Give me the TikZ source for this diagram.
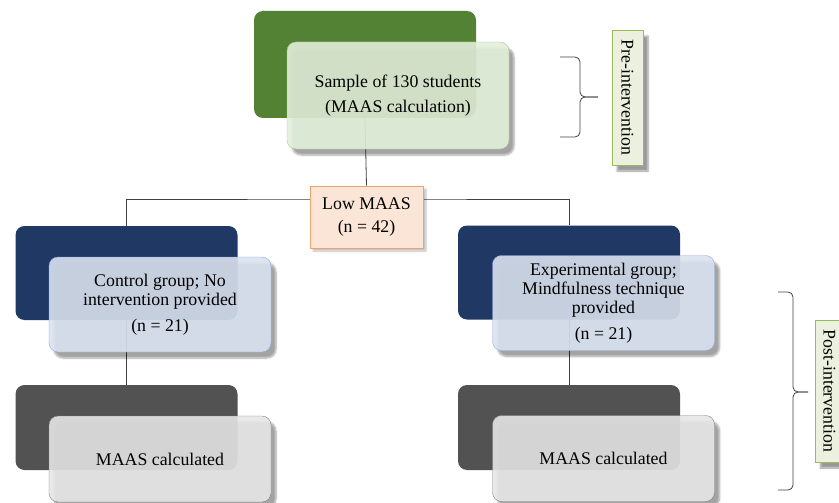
\documentclass[tikz,border=0pt]{standalone}
\usepackage{fontspec}
\setmainfont{Liberation Serif}
\usetikzlibrary{positioning,shadows.blur}
\definecolor{leafgreen}{RGB}{84,130,53}
\definecolor{palegreen}{RGB}{226,239,218}
\definecolor{edgegreen}{RGB}{169,200,150}
\definecolor{taggreen}{RGB}{235,241,222}
\definecolor{tagedge}{RGB}{155,187,89}
\definecolor{navyblue}{RGB}{32,56,100}
\definecolor{paleblue}{RGB}{218,226,240}
\definecolor{edgeblue}{RGB}{143,170,220}
\definecolor{charcoal}{RGB}{82,82,82}
\definecolor{palegray}{RGB}{230,230,230}
\definecolor{edgegray}{RGB}{130,130,130}
\definecolor{peach}{RGB}{251,229,214}
\definecolor{edgeorange}{RGB}{240,160,110}
\definecolor{linegray}{RGB}{64,64,64}

\begin{document}
\begin{tikzpicture}[x=1pt, y=-1pt,
  backbox/.style={rounded corners=9pt, minimum width=222pt, inner sep=0pt},
  frontbox/.style={rounded corners=9pt, minimum width=222pt, inner sep=0pt,
    align=center, fill opacity=0.9, text opacity=1,
    font=\fontsize{17.8}{19}\selectfont,
    blur shadow={shadow xshift=5pt, shadow yshift=-6pt, shadow blur steps=6, shadow opacity=40}},
  tagbox/.style={rotate=-90, fill=taggreen, draw=tagedge, inner sep=0pt,
    minimum height=31pt, font=\fontsize{17.8}{19}\selectfont,
    blur shadow={shadow xshift=5pt, shadow yshift=-6pt, shadow blur steps=6, shadow opacity=40}},
  link/.style={draw=linegray, line width=0.8pt},
  bracket/.style={draw=linegray, line width=0.8pt, rounded corners=5pt}]
  \useasboundingbox (0,0) rectangle (839,503);

  % back plates
  \node[backbox, fill=leafgreen, minimum height=107pt] (sampleback) at (365,64.5) {};
  \node[backbox, fill=navyblue, minimum height=94pt] (ctrlback) at (126.5,273) {};
  \node[backbox, fill=navyblue, minimum height=94pt] (expback) at (569,272.5) {};
  \node[backbox, fill=charcoal, minimum height=85pt] (ctrlcalcback) at (126.5,427.5) {};
  \node[backbox, fill=charcoal, minimum height=85pt] (expcalcback) at (569,427.5) {};

  % split to the two groups
  \coordinate (split) at (366,199);
  \draw[link] (ctrlback.north) |- (split) -| (expback.north);
  \node[fill=peach, draw=edgeorange, line width=0.8pt, minimum width=113pt, minimum height=62pt,
    align=center, font=\fontsize{17.8}{23}\selectfont,
    blur shadow={shadow xshift=3pt, shadow yshift=-3pt, shadow blur steps=4, shadow opacity=25}]
    (low) at (366.5,217) {Low MAAS\\(n = 42)};
  \draw[link] (sampleback.south) -- (low.north);
  \draw[link] (ctrlback.south) -- (ctrlcalcback.north);
  \draw[link] (expback.south) -- (expcalcback.north);

  % front plates
  \node[frontbox, fill=palegreen, draw=edgegreen, minimum height=107pt,
    font=\fontsize{17.8}{25}\selectfont] (sample) at (398,95.5)
    {Sample of 130 students\\(MAAS calculation)};
  \node[frontbox, fill=paleblue, draw=edgeblue, minimum height=95pt] (ctrl) at (160,304.5)
    {Control group; No\\intervention provided\\[7pt](n = 21)};
  \node[frontbox, fill=paleblue, draw=edgeblue, minimum height=95pt] (exp) at (603.5,303)
    {Experimental group;\\Mindfulness technique\\provided\\[7pt](n = 21)};
  \node[frontbox, fill=palegray, draw=edgegray, minimum height=86pt] (ctrlcalc) at (160,459)
    {MAAS calculated};
  \node[frontbox, fill=palegray, draw=edgegray, minimum height=86pt] (expcalc) at (603.5,458.5)
    {MAAS calculated};

  % phase brackets
  \draw[bracket] (560,57) -- (580,57) -- (580,97) -- (598,97);
  \draw[bracket] (598,97) -- (580,97) -- (580,137) -- (560,137);
  \node[tagbox, minimum width=135pt] (pre) at (627.5,97.5) {Pre-intervention};

  \draw[bracket] (778,292) -- (793,292) -- (793,392) -- (808,392);
  \draw[bracket] (808,392) -- (793,392) -- (793,490) -- (778,490);
  \node[tagbox, minimum width=142pt, minimum height=28pt] (post) at (829.5,391) {Post-intervention};
\end{tikzpicture}
\end{document}
